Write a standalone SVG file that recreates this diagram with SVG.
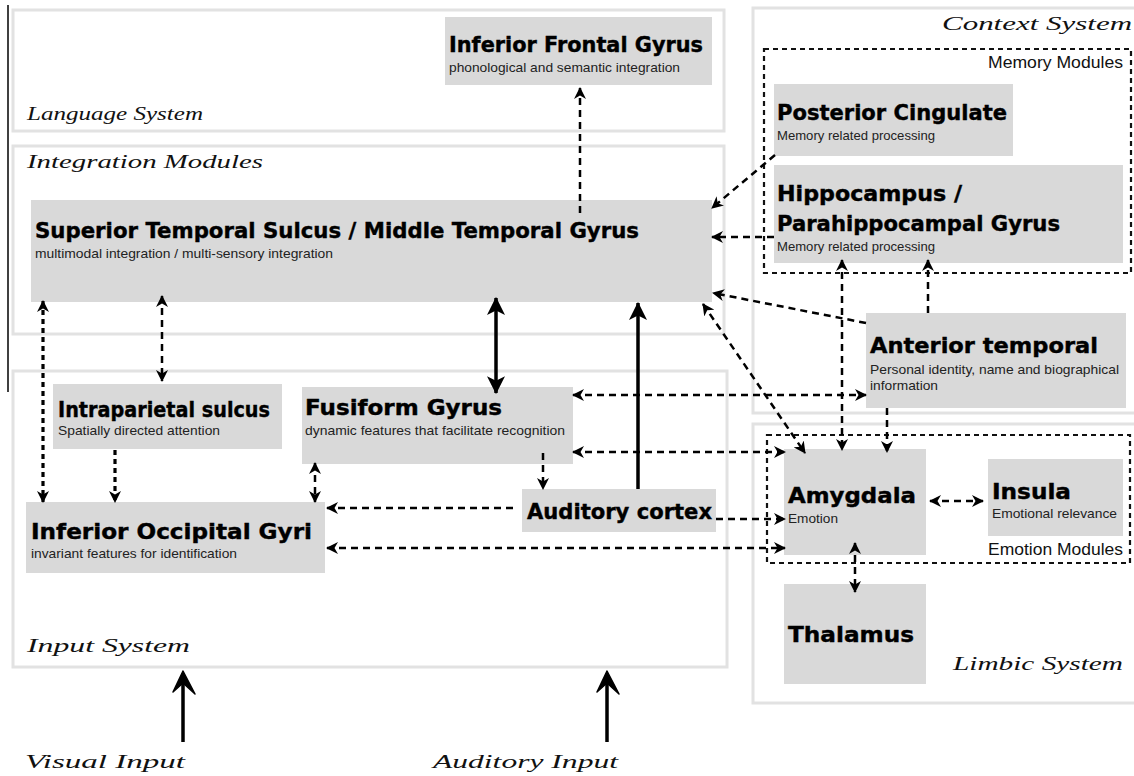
<svg xmlns="http://www.w3.org/2000/svg" width="1134" height="776" viewBox="0 0 1134 776">
<defs>
<style>
.sys{fill:none;stroke:#e2e2e2;stroke-width:3}
.mod{fill:none;stroke:#111;stroke-width:2.2;stroke-dasharray:5 4}
.node{fill:#d9d9d9}
.t{font-family:"DejaVu Sans","Liberation Sans",sans-serif;font-weight:bold;font-size:21px;fill:#000;stroke:#000;stroke-width:0.4}
.s{font-family:"Liberation Sans",Arial,sans-serif;font-size:13px;fill:#222}
.m{font-family:"Liberation Sans",Arial,sans-serif;font-size:17px;fill:#111}
.h{font-family:"Liberation Serif","DejaVu Serif",serif;font-style:italic;font-size:19px;fill:#111}
.d{fill:none;stroke:#000;stroke-width:2.5;stroke-dasharray:7 5;marker-end:url(#ah)}
.dd{fill:none;stroke:#000;stroke-width:2.5;stroke-dasharray:7 5;marker-start:url(#ah);marker-end:url(#ah)}
.dot{fill:none;stroke:#000;stroke-width:3.2;stroke-dasharray:5 4}
.th{fill:none;stroke:#000;stroke-width:3.5}
</style>
<marker id="ah" viewBox="0 0 12 12" refX="11" refY="6" markerWidth="12" markerHeight="12" markerUnits="userSpaceOnUse" orient="auto-start-reverse"><path d="M0,0 L12,6 L0,12 L3.5,6 z" fill="#000"/></marker>
<marker id="ahb" viewBox="0 0 16 16" refX="15" refY="8" markerWidth="18" markerHeight="18" markerUnits="userSpaceOnUse" orient="auto-start-reverse"><path d="M0,0 L16,8 L0,16 L4,8 z" fill="#000"/></marker>
</defs>
<rect width="1134" height="776" fill="#fff"/>
<line x1="8" y1="5" x2="8" y2="392" stroke="#000" stroke-width="1.5"/>

<g id="systems">
<rect class="sys" x="13" y="10" width="711" height="121"/>
<rect class="sys" x="13" y="146" width="711" height="188"/>
<rect class="sys" x="13" y="371" width="714" height="296"/>
<rect class="sys" x="753" y="8" width="395" height="405"/>
<rect class="sys" x="753" y="424" width="395" height="279"/>
<rect class="mod" x="764" y="49" width="367" height="224"/>
<rect class="mod" x="767" y="435" width="363" height="128"/>
<text class="h" x="27" y="120" textLength="176" lengthAdjust="spacingAndGlyphs">Language System</text>
<text class="h" x="27" y="168" textLength="236" lengthAdjust="spacingAndGlyphs">Integration Modules</text>
<text class="h" x="942" y="30" textLength="190" lengthAdjust="spacingAndGlyphs">Context System</text>
<text class="h" x="27" y="652" textLength="163" lengthAdjust="spacingAndGlyphs">Input System</text>
<text class="h" x="953" y="670" textLength="170" lengthAdjust="spacingAndGlyphs">Limbic System</text>
<text class="m" x="988" y="68" textLength="135" lengthAdjust="spacingAndGlyphs">Memory Modules</text>
<text class="m" x="988" y="555" textLength="135" lengthAdjust="spacingAndGlyphs">Emotion Modules</text>
</g>

<g id="ifg"><rect class="node" x="445" y="17" width="267" height="68"/>
<text class="t" x="449" y="52" textLength="254" lengthAdjust="spacingAndGlyphs">Inferior Frontal Gyrus</text>
<text class="s" x="449" y="72" textLength="231" lengthAdjust="spacingAndGlyphs">phonological and semantic integration</text></g>

<g id="pc"><rect class="node" x="774" y="84" width="239" height="72"/>
<text class="t" x="777" y="120" textLength="230" lengthAdjust="spacingAndGlyphs">Posterior Cingulate</text>
<text class="s" x="777" y="140" textLength="158" lengthAdjust="spacingAndGlyphs">Memory related processing</text></g>

<g id="hippo"><rect class="node" x="774" y="165" width="349" height="98"/>
<text class="t" x="777" y="201" textLength="185" lengthAdjust="spacingAndGlyphs">Hippocampus /</text>
<text class="t" x="777" y="231" textLength="283" lengthAdjust="spacingAndGlyphs">Parahippocampal Gyrus</text>
<text class="s" x="777" y="251" textLength="158" lengthAdjust="spacingAndGlyphs">Memory related processing</text></g>

<g id="sts"><rect class="node" x="31" y="200" width="681" height="102"/>
<text class="t" x="35" y="238" textLength="604" lengthAdjust="spacingAndGlyphs">Superior Temporal Sulcus / Middle Temporal Gyrus</text>
<text class="s" x="35" y="258" textLength="298" lengthAdjust="spacingAndGlyphs">multimodal integration / multi-sensory integration</text></g>

<g id="ips"><rect class="node" x="53" y="384" width="229" height="65"/>
<text class="t" x="58" y="417" textLength="212" lengthAdjust="spacingAndGlyphs">Intraparietal sulcus</text>
<text class="s" x="58" y="435" textLength="162" lengthAdjust="spacingAndGlyphs">Spatially directed attention</text></g>

<g id="fusiform"><rect class="node" x="302" y="387" width="271" height="77"/>
<text class="t" x="305" y="415" textLength="197" lengthAdjust="spacingAndGlyphs">Fusiform Gyrus</text>
<text class="s" x="305" y="435" textLength="260" lengthAdjust="spacingAndGlyphs">dynamic features that facilitate recognition</text></g>

<g id="iog"><rect class="node" x="26" y="502" width="299" height="71"/>
<text class="t" x="31" y="539" textLength="281" lengthAdjust="spacingAndGlyphs">Inferior Occipital Gyri</text>
<text class="s" x="31" y="558" textLength="206" lengthAdjust="spacingAndGlyphs">invariant features for identification</text></g>

<g id="auditory"><rect class="node" x="522" y="489" width="194" height="43"/>
<text class="t" x="527" y="519" textLength="185" lengthAdjust="spacingAndGlyphs">Auditory cortex</text></g>

<g id="anterior"><rect class="node" x="866" y="313" width="260" height="95"/>
<text class="t" x="870" y="353" textLength="228" lengthAdjust="spacingAndGlyphs">Anterior temporal</text>
<text class="s" x="870" y="374" textLength="249" lengthAdjust="spacingAndGlyphs">Personal identity, name and biographical</text>
<text class="s" x="870" y="390" textLength="68" lengthAdjust="spacingAndGlyphs">information</text></g>

<g id="amygdala"><rect class="node" x="784" y="449" width="142" height="106"/>
<text class="t" x="788" y="503" textLength="128" lengthAdjust="spacingAndGlyphs">Amygdala</text>
<text class="s" x="788" y="523" textLength="50" lengthAdjust="spacingAndGlyphs">Emotion</text></g>

<g id="insula"><rect class="node" x="988" y="459" width="135" height="77"/>
<text class="t" x="992" y="499" textLength="79" lengthAdjust="spacingAndGlyphs">Insula</text>
<text class="s" x="992" y="518" textLength="125" lengthAdjust="spacingAndGlyphs">Emotional relevance</text></g>

<g id="thalamus"><rect class="node" x="784" y="584" width="142" height="100"/>
<text class="t" x="788" y="642" textLength="126" lengthAdjust="spacingAndGlyphs">Thalamus</text></g>

<g id="connectors">
<path class="d" d="M580,213 L580,88"/>
<path class="d" d="M775,155 L712,208"/>
<path class="d" d="M774,237 L712,237"/>
<path class="d" d="M866,323 L713,293"/>
<path class="dd" d="M703,304 L805,453"/>
<path class="dd" d="M842,260 L842,450"/>
<path class="d" d="M928,313 L928,260"/>
<path class="d" d="M887,408 L887,452"/>
<path class="dd" d="M573,395 L866,395"/>
<path class="dd" d="M573,452 L785,452"/>
<path class="th" d="M496,298 L496,393" marker-start="url(#ahb)" marker-end="url(#ahb)"/>
<path class="th" d="M638,489 L638,303" marker-end="url(#ahb)"/>
<path class="d" d="M716,519 L785,519"/>
<path class="d" d="M513,508 L327,508"/>
<path class="dd" d="M327,548 L785,548"/>
<path class="d" d="M543,453 L543,489"/>
<path class="dd" d="M315,463 L315,502"/>
<path class="dot" d="M115,450 L115,502" marker-end="url(#ah)"/>
<path class="dot" d="M43,301 L43,502" marker-start="url(#ah)" marker-end="url(#ah)"/>
<path class="dd" d="M162,296 L162,381"/>
<path class="dd" d="M930,501 L983,501"/>
<path class="dd" d="M855,543 L855,592"/>
</g>

<g id="inputs">
<path d="M183,742 L183,680" stroke="#000" stroke-width="3.5" fill="none"/>
<path d="M183,671 L173,692 L183,683 L195,694 z" fill="#000" stroke="#000" stroke-width="1.5" stroke-linejoin="round"/>
<path d="M607,742 L607,680" stroke="#000" stroke-width="3.5" fill="none"/>
<path d="M607,671 L597,692 L607,683 L619,694 z" fill="#000" stroke="#000" stroke-width="1.5" stroke-linejoin="round"/>
<text class="h" x="25" y="768" textLength="160" lengthAdjust="spacingAndGlyphs">Visual Input</text>
<text class="h" x="433" y="768" textLength="185" lengthAdjust="spacingAndGlyphs">Auditory Input</text>
</g>
</svg>
